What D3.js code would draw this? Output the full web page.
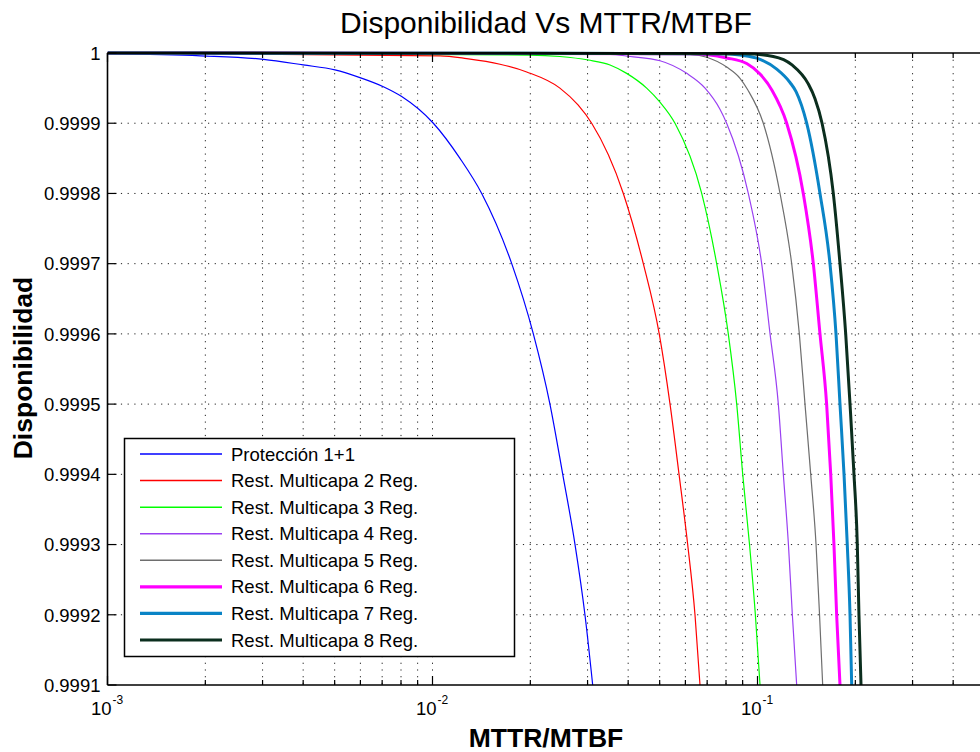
<!DOCTYPE html>
<html>
<head>
<meta charset="utf-8">
<script src="https://cdn.jsdelivr.net/npm/d3@7"></script>
<style>
  html, body { margin: 0; padding: 0; background: #fff; overflow: hidden; }
  svg { display: block; font-family: "Liberation Sans", Arial, sans-serif; }
</style>
</head>
<body>
<svg id="chart" width="980" height="752"></svg>
<script>
// ---- Data ----
const xTickValues = [0.001, 0.01, 0.1, 1];
const xLabelValues = [0.001, 0.01, 0.1];
const xTickExponents = ["-3", "-2", "-1"];
const yTickValues = [0.9991, 0.9992, 0.9993, 0.9994, 0.9995, 0.9996, 0.9997, 0.9998, 0.9999, 1];
const yTickLabels = ["0.9991", "0.9992", "0.9993", "0.9994", "0.9995", "0.9996", "0.9997", "0.9998", "0.9999", "1"];

const seriesNames = [
  "Protección 1+1",
  "Rest. Multicapa 2 Reg.",
  "Rest. Multicapa 3 Reg.",
  "Rest. Multicapa 4 Reg.",
  "Rest. Multicapa 5 Reg.",
  "Rest. Multicapa 6 Reg.",
  "Rest. Multicapa 7 Reg.",
  "Rest. Multicapa 8 Reg."
];

const prot = [[0.001,0.999999],[0.00193,0.999996],[0.00302,0.999991],[0.004,0.999983],[0.00501,0.999976],[0.00598,0.999965],[0.00706,0.999952],[0.00804,0.999938],[0.01006,0.9999],[0.01215,0.99985],[0.01417,0.9998],[0.01753,0.9997],[0.02043,0.9996],[0.02298,0.9995],[0.02516,0.9994],[0.02745,0.9993],[0.02945,0.9992],[0.03111,0.9991]];
const reg2 = [[0.001,1.0],[0.01055,0.999996],[0.01274,0.999992],[0.01613,0.999984],[0.01949,0.999973],[0.02466,0.99995],[0.02804,0.999926],[0.03089,0.9999],[0.03865,0.9998],[0.04453,0.9997],[0.04985,0.9996],[0.05381,0.9995],[0.05736,0.9994],[0.06098,0.9993],[0.06422,0.9992],[0.06654,0.9991]];
const reg3 = [[0.001,1.0],[0.01995,0.999997],[0.02466,0.999995],[0.03016,0.99999],[0.03518,0.999983],[0.03958,0.999971],[0.0456,0.99995],[0.05012,0.99993],[0.05574,0.9999],[0.06735,0.9998],[0.07488,0.9997],[0.08131,0.9996],[0.0863,0.9995],[0.09006,0.9994],[0.0945,0.9993],[0.0985,0.9992],[0.1018,0.9991]];
const reg4 = [[0.001,1.0],[0.03518,0.999998],[0.04051,0.999995],[0.05012,0.999989],[0.06056,0.999971],[0.06896,0.99995],[0.07665,0.99992],[0.08037,0.9999],[0.09369,0.9998],[0.103,0.9997],[0.1093,0.9996],[0.1159,0.9995],[0.1201,0.9994],[0.1245,0.9993],[0.128,0.9992],[0.132,0.9991]];
const reg5 = [[0.001,1.0],[0.06198,0.999998],[0.06979,0.999994],[0.08037,0.99998],[0.08834,0.999964],[0.0935,0.999947],[0.1042,0.9999],[0.1173,0.9998],[0.1274,0.9997],[0.1345,0.9996],[0.14,0.9995],[0.1458,0.9994],[0.1514,0.9993],[0.1552,0.9992],[0.1587,0.9991]];
const reg6 = [[0.001,1.0],[0.06198,0.999999],[0.08037,0.999993],[0.09265,0.999985],[0.1018,0.99997],[0.1108,0.999947],[0.123,0.9999],[0.1383,0.9998],[0.1485,0.9997],[0.1557,0.9996],[0.1632,0.9995],[0.168,0.9994],[0.1719,0.9993],[0.1752,0.9992],[0.1794,0.9991]];
const reg7 = [[0.001,1.0],[0.07665,0.999999],[0.08834,0.999997],[0.1018,0.999991],[0.1146,0.999977],[0.1259,0.999958],[0.1314,0.999945],[0.1417,0.9999],[0.1557,0.9998],[0.1671,0.9997],[0.1744,0.9996],[0.1794,0.9995],[0.1846,0.9994],[0.1889,0.9993],[0.1926,0.9992],[0.1949,0.9991]];
const reg8 = [[0.001,1.0],[0.09152,0.999999],[0.1118,0.999995],[0.1277,0.999983],[0.1433,0.999956],[0.1503,0.999935],[0.158,0.9999],[0.1711,0.9998],[0.1794,0.9997],[0.1868,0.9996],[0.1926,0.9995],[0.1981,0.9994],[0.2028,0.9993],[0.2052,0.9992],[0.2082,0.9991]];

const seriesData = [prot, reg2, reg3, reg4, reg5, reg6, reg7, reg8];
const seriesColors = ["#0000ff", "#ff0000", "#00ff00", "#9a40f2", "#6e6e6e", "#ff00ff", "#0a84c6", "#0b2e1e"];
const seriesWidths = [1.2, 1.2, 1.2, 1.2, 1.2, 3, 3, 3];

// ---- Layout ----
const svg = d3.select("#chart");
const plotLeft = 107.5, plotRight = 1082.5, plotTop = 53, plotBottom = 685;

const x = d3.scaleLog().domain([0.001, 1]).range([plotLeft, plotRight]);
const y = d3.scaleLinear().domain([0.9991, 1]).range([plotBottom, plotTop]);

svg.append("rect").attr("width", 980).attr("height", 752).attr("fill", "#fff");

// minor/major x positions
const xAll = [];
for (let e = -3; e < 0; e++) for (let m = 1; m <= 9; m++) xAll.push(m * Math.pow(10, e));
xAll.push(1);

// ---- Grid ----
const grid = svg.append("g").attr("stroke", "#222").attr("stroke-width", 1)
  .attr("stroke-dasharray", "1.2,5.5").attr("fill", "none");
xAll.filter(v => v > 0.001 && v < 1).forEach(v => {
  grid.append("line").attr("x1", x(v)).attr("x2", x(v)).attr("y1", plotTop).attr("y2", plotBottom);
});
yTickValues.filter(v => v > 0.9991 && v < 1).forEach(v => {
  grid.append("line").attr("x1", plotLeft).attr("x2", plotRight).attr("y1", y(v)).attr("y2", y(v));
});

// ---- Curves ----
svg.append("clipPath").attr("id", "clip").append("rect")
  .attr("x", plotLeft).attr("y", plotTop - 2).attr("width", plotRight - plotLeft).attr("height", plotBottom - plotTop + 2);
const line = d3.line().x(d => x(d[0])).y(d => y(d[1])).curve(d3.curveMonotoneX);
const curves = svg.append("g").attr("clip-path", "url(#clip)");
seriesData.forEach((s, i) => {
  curves.append("path").attr("d", line(s)).attr("fill", "none")
    .attr("stroke", seriesColors[i]).attr("stroke-width", seriesWidths[i])
    .attr("stroke-linejoin", "round");
});

// ---- Axes (box + inward ticks) ----
const ax = svg.append("g").attr("stroke", "#000").attr("fill", "none");
ax.append("line").attr("x1", plotLeft).attr("x2", plotLeft).attr("y1", plotTop).attr("y2", plotBottom).attr("stroke-width", 1.6);
ax.append("line").attr("x1", plotLeft).attr("x2", plotRight).attr("y1", plotTop).attr("y2", plotTop).attr("stroke-width", 1.6);
ax.append("line").attr("x1", plotLeft).attr("x2", plotRight).attr("y1", plotBottom).attr("y2", plotBottom).attr("stroke-width", 1.6);
ax.append("line").attr("x1", plotRight).attr("x2", plotRight).attr("y1", plotTop).attr("y2", plotBottom).attr("stroke-width", 1.6);

yTickValues.forEach(v => {
  ax.append("line").attr("x1", plotLeft).attr("x2", plotLeft + 9).attr("y1", y(v)).attr("y2", y(v)).attr("stroke-width", 1.2);
});
xAll.forEach(v => {
  const major = xTickValues.includes(v);
  const len = major ? 9 : 5;
  ax.append("line").attr("x1", x(v)).attr("x2", x(v)).attr("y1", plotBottom).attr("y2", plotBottom - len).attr("stroke-width", 1.2);
  ax.append("line").attr("x1", x(v)).attr("x2", x(v)).attr("y1", plotTop).attr("y2", plotTop + len).attr("stroke-width", 1.2);
});

// ---- Tick labels ----
const yl = svg.append("g").attr("font-size", "18.5px").attr("fill", "#000").attr("text-anchor", "end");
yTickValues.forEach((v, i) => {
  yl.append("text").attr("x", 100.5).attr("y", y(v) + 6.8).text(yTickLabels[i]);
});
const xl = svg.append("g").attr("fill", "#000");
xLabelValues.forEach((v, i) => {
  const t = xl.append("text").attr("x", x(v) - 16.5).attr("y", 715).attr("font-size", "18.5px");
  t.append("tspan").text("10");
  t.append("tspan").attr("dy", -11).attr("dx", 1).attr("font-size", "12px").text(xTickExponents[i]);
});

// ---- Titles ----
svg.append("text").attr("x", 546).attr("y", 33).attr("text-anchor", "middle")
  .attr("font-size", "30px").attr("fill", "#000").text("Disponibilidad Vs MTTR/MTBF");
svg.append("text").attr("x", 546).attr("y", 747).attr("text-anchor", "middle")
  .attr("font-size", "26.5px").attr("font-weight", "bold").attr("fill", "#000").text("MTTR/MTBF");
svg.append("text").attr("transform", "translate(32,368) rotate(-90)").attr("text-anchor", "middle")
  .attr("font-size", "26.5px").attr("font-weight", "bold").attr("fill", "#000").text("Disponibilidad");

// ---- Legend ----
const lg = svg.append("g");
lg.append("rect").attr("x", 124.5).attr("y", 438.5).attr("width", 390).attr("height", 218)
  .attr("fill", "#fff").attr("stroke", "#000").attr("stroke-width", 1.5);
const rowY = d3.scaleLinear().domain([0, 7]).range([454, 640]);
seriesNames.forEach((name, i) => {
  const cy = rowY(i);
  lg.append("line").attr("x1", 140).attr("x2", 222).attr("y1", cy).attr("y2", cy)
    .attr("stroke", seriesColors[i]).attr("stroke-width", seriesWidths[i] === 3 ? 3.2 : 1.5);
  lg.append("text").attr("x", 231).attr("y", cy + 6.5).attr("font-size", "18.5px").attr("fill", "#000").text(name);
});
</script>
</body>
</html>
